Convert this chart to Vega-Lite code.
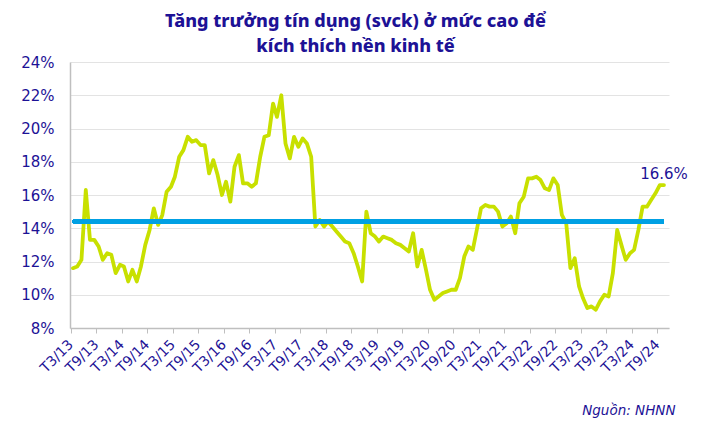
{
  "$schema": "https://vega.github.io/schema/vega-lite/v6.json",
  "description": "Tang truong tin dung (svck), T3/2013 - T10/2024",
  "autosize": "none",
  "width": 599,
  "height": 266,
  "padding": {"left": 70, "top": 62, "right": 44, "bottom": 95},
  "background": "white",
  "title": {
    "text": ["Tăng trưởng tín dụng (svck) ở mức cao để", "kích thích nền kinh tế"],
    "anchor": "middle",
    "frame": "group",
    "dx": -14,
    "dy": 1,
    "font": "Noto Sans",
    "fontSize": 18,
    "fontWeight": 800,
    "lineHeight": 25,
    "color": "#1d1296",
    "offset": 0
  },
  "config": {
    "view": {"stroke": null},
    "axis": {
      "labelFont": "DejaVu Sans",
      "labelColor": "#1d1296",
      "titleFont": "DejaVu Sans",
      "titleColor": "#1d1296",
      "domainColor": "#bfbfbf",
      "domainWidth": 1.5,
      "tickColor": "#bfbfbf",
      "gridColor": "#e3e3e3",
      "gridWidth": 1.2
    }
  },
  "data": {
    "values": [
      {"date": "2013-03-01", "value": 11.6},
      {"date": "2013-04-01", "value": 11.7},
      {"date": "2013-05-01", "value": 12.1},
      {"date": "2013-06-01", "value": 16.3},
      {"date": "2013-07-01", "value": 13.3},
      {"date": "2013-08-01", "value": 13.3},
      {"date": "2013-09-01", "value": 12.9},
      {"date": "2013-10-01", "value": 12.1},
      {"date": "2013-11-01", "value": 12.5},
      {"date": "2013-12-01", "value": 12.4},
      {"date": "2014-01-01", "value": 11.3},
      {"date": "2014-02-01", "value": 11.8},
      {"date": "2014-03-01", "value": 11.7},
      {"date": "2014-04-01", "value": 10.8},
      {"date": "2014-05-01", "value": 11.5},
      {"date": "2014-06-01", "value": 10.8},
      {"date": "2014-07-01", "value": 11.7},
      {"date": "2014-08-01", "value": 13.0},
      {"date": "2014-09-01", "value": 13.9},
      {"date": "2014-10-01", "value": 15.2},
      {"date": "2014-11-01", "value": 14.2},
      {"date": "2014-12-01", "value": 14.8},
      {"date": "2015-01-01", "value": 16.2},
      {"date": "2015-02-01", "value": 16.5},
      {"date": "2015-03-01", "value": 17.1},
      {"date": "2015-04-01", "value": 18.3},
      {"date": "2015-05-01", "value": 18.7},
      {"date": "2015-06-01", "value": 19.5},
      {"date": "2015-07-01", "value": 19.2},
      {"date": "2015-08-01", "value": 19.3},
      {"date": "2015-09-01", "value": 19.0},
      {"date": "2015-10-01", "value": 19.0},
      {"date": "2015-11-01", "value": 17.3},
      {"date": "2015-12-01", "value": 18.1},
      {"date": "2016-01-01", "value": 17.2},
      {"date": "2016-02-01", "value": 16.0},
      {"date": "2016-03-01", "value": 16.8},
      {"date": "2016-04-01", "value": 15.6},
      {"date": "2016-05-01", "value": 17.7},
      {"date": "2016-06-01", "value": 18.4},
      {"date": "2016-07-01", "value": 16.7},
      {"date": "2016-08-01", "value": 16.7},
      {"date": "2016-09-01", "value": 16.5},
      {"date": "2016-10-01", "value": 16.7},
      {"date": "2016-11-01", "value": 18.3},
      {"date": "2016-12-01", "value": 19.5},
      {"date": "2017-01-01", "value": 19.6},
      {"date": "2017-02-01", "value": 21.5},
      {"date": "2017-03-01", "value": 20.7},
      {"date": "2017-04-01", "value": 22.0},
      {"date": "2017-05-01", "value": 19.1},
      {"date": "2017-06-01", "value": 18.2},
      {"date": "2017-07-01", "value": 19.5},
      {"date": "2017-08-01", "value": 18.9},
      {"date": "2017-09-01", "value": 19.4},
      {"date": "2017-10-01", "value": 19.1},
      {"date": "2017-11-01", "value": 18.3},
      {"date": "2017-12-01", "value": 14.1},
      {"date": "2018-01-01", "value": 14.5},
      {"date": "2018-02-01", "value": 14.1},
      {"date": "2018-03-01", "value": 14.4},
      {"date": "2018-04-01", "value": 14.1},
      {"date": "2018-05-01", "value": 13.8},
      {"date": "2018-06-01", "value": 13.5},
      {"date": "2018-07-01", "value": 13.2},
      {"date": "2018-08-01", "value": 13.1},
      {"date": "2018-09-01", "value": 12.5},
      {"date": "2018-10-01", "value": 11.7},
      {"date": "2018-11-01", "value": 10.8},
      {"date": "2018-12-01", "value": 15.0},
      {"date": "2019-01-01", "value": 13.7},
      {"date": "2019-02-01", "value": 13.5},
      {"date": "2019-03-01", "value": 13.2},
      {"date": "2019-04-01", "value": 13.5},
      {"date": "2019-05-01", "value": 13.4},
      {"date": "2019-06-01", "value": 13.3},
      {"date": "2019-07-01", "value": 13.1},
      {"date": "2019-08-01", "value": 13.0},
      {"date": "2019-09-01", "value": 12.8},
      {"date": "2019-10-01", "value": 12.6},
      {"date": "2019-11-01", "value": 13.7},
      {"date": "2019-12-01", "value": 11.7},
      {"date": "2020-01-01", "value": 12.7},
      {"date": "2020-02-01", "value": 11.5},
      {"date": "2020-03-01", "value": 10.3},
      {"date": "2020-04-01", "value": 9.7},
      {"date": "2020-05-01", "value": 9.9},
      {"date": "2020-06-01", "value": 10.1},
      {"date": "2020-07-01", "value": 10.2},
      {"date": "2020-08-01", "value": 10.3},
      {"date": "2020-09-01", "value": 10.3},
      {"date": "2020-10-01", "value": 11.0},
      {"date": "2020-11-01", "value": 12.3},
      {"date": "2020-12-01", "value": 12.9},
      {"date": "2021-01-01", "value": 12.7},
      {"date": "2021-02-01", "value": 14.0},
      {"date": "2021-03-01", "value": 15.2},
      {"date": "2021-04-01", "value": 15.4},
      {"date": "2021-05-01", "value": 15.3},
      {"date": "2021-06-01", "value": 15.3},
      {"date": "2021-07-01", "value": 15.0},
      {"date": "2021-08-01", "value": 14.1},
      {"date": "2021-09-01", "value": 14.3},
      {"date": "2021-10-01", "value": 14.7},
      {"date": "2021-11-01", "value": 13.7},
      {"date": "2021-12-01", "value": 15.5},
      {"date": "2022-01-01", "value": 15.9},
      {"date": "2022-02-01", "value": 17.0},
      {"date": "2022-03-01", "value": 17.0},
      {"date": "2022-04-01", "value": 17.1},
      {"date": "2022-05-01", "value": 16.9},
      {"date": "2022-06-01", "value": 16.4},
      {"date": "2022-07-01", "value": 16.3},
      {"date": "2022-08-01", "value": 17.0},
      {"date": "2022-09-01", "value": 16.6},
      {"date": "2022-10-01", "value": 14.8},
      {"date": "2022-11-01", "value": 14.3},
      {"date": "2022-12-01", "value": 11.6},
      {"date": "2023-01-01", "value": 12.2},
      {"date": "2023-02-01", "value": 10.5},
      {"date": "2023-03-01", "value": 9.8},
      {"date": "2023-04-01", "value": 9.2},
      {"date": "2023-05-01", "value": 9.3},
      {"date": "2023-06-01", "value": 9.1},
      {"date": "2023-07-01", "value": 9.6},
      {"date": "2023-08-01", "value": 10.0},
      {"date": "2023-09-01", "value": 9.9},
      {"date": "2023-10-01", "value": 11.3},
      {"date": "2023-11-01", "value": 13.9},
      {"date": "2023-12-01", "value": 13.0},
      {"date": "2024-01-01", "value": 12.1},
      {"date": "2024-02-01", "value": 12.5},
      {"date": "2024-03-01", "value": 12.7},
      {"date": "2024-04-01", "value": 13.9},
      {"date": "2024-05-01", "value": 15.3},
      {"date": "2024-06-01", "value": 15.3},
      {"date": "2024-07-01", "value": 15.7},
      {"date": "2024-08-01", "value": 16.1},
      {"date": "2024-09-01", "value": 16.6},
      {"date": "2024-10-01", "value": 16.6}
    ],
    "format": {"parse": {"date": "date"}}
  },
  "encoding": {
    "x": {
      "field": "date",
      "type": "temporal",
      "scale": {
        "type": "utc",
        "domain": [
          {"year": 2013, "month": 2, "date": 8, "utc": true},
          {"year": 2024, "month": 11, "date": 6, "utc": true}
        ]
      },
      "axis": {
        "values": [
          {"year": 2013, "month": 2, "date": 14, "utc": true},
          {"year": 2013, "month": 8, "date": 14, "utc": true},
          {"year": 2014, "month": 2, "date": 14, "utc": true},
          {"year": 2014, "month": 8, "date": 14, "utc": true},
          {"year": 2015, "month": 2, "date": 14, "utc": true},
          {"year": 2015, "month": 8, "date": 14, "utc": true},
          {"year": 2016, "month": 2, "date": 14, "utc": true},
          {"year": 2016, "month": 8, "date": 14, "utc": true},
          {"year": 2017, "month": 2, "date": 14, "utc": true},
          {"year": 2017, "month": 8, "date": 14, "utc": true},
          {"year": 2018, "month": 2, "date": 14, "utc": true},
          {"year": 2018, "month": 8, "date": 14, "utc": true},
          {"year": 2019, "month": 2, "date": 14, "utc": true},
          {"year": 2019, "month": 8, "date": 14, "utc": true},
          {"year": 2020, "month": 2, "date": 14, "utc": true},
          {"year": 2020, "month": 8, "date": 14, "utc": true},
          {"year": 2021, "month": 2, "date": 14, "utc": true},
          {"year": 2021, "month": 8, "date": 14, "utc": true},
          {"year": 2022, "month": 2, "date": 14, "utc": true},
          {"year": 2022, "month": 8, "date": 14, "utc": true},
          {"year": 2023, "month": 2, "date": 14, "utc": true},
          {"year": 2023, "month": 8, "date": 14, "utc": true},
          {"year": 2024, "month": 2, "date": 14, "utc": true},
          {"year": 2024, "month": 8, "date": 14, "utc": true}
        ],
        "labelExpr": "'T' + utcFormat(datum.value + 20 * 86400000, '%-m/%y')",
        "labelAngle": -45,
        "labelAlign": "right",
        "labelBaseline": "middle",
        "labelFontSize": 14,
        "labelPadding": 9,
        "labelOverlap": false,
        "labelFlush": false,
        "labelBound": false,
        "tickSize": 5,
        "grid": false,
        "title": "Nguồn: NHNN",
        "titleFontStyle": "italic",
        "titleFontWeight": "normal",
        "titleFontSize": 13.5,
        "titleAnchor": "end",
        "titleAlign": "right",
        "titleBaseline": "middle",
        "titleX": 605,
        "titleY": 82
      }
    },
    "y": {
      "field": "value",
      "type": "quantitative",
      "scale": {"domain": [8, 24], "nice": false, "zero": false},
      "axis": {
        "values": [8, 10, 12, 14, 16, 18, 20, 22, 24],
        "labelExpr": "datum.value + '%'",
        "labelFontSize": 15,
        "labelPadding": 16,
        "ticks": false,
        "title": null
      }
    }
  },
  "layer": [
    {
      "mark": {"type": "line", "color": "#c8e000", "strokeWidth": 3.8, "strokeCap": "round", "strokeJoin": "round"}
    },
    {
      "mark": {"type": "rule", "color": "#00a0e3", "strokeWidth": 3.5},
      "encoding": {
        "x": {"datum": {"year": 2013, "month": 3, "date": 1, "utc": true}, "type": "temporal"},
        "x2": {"datum": {"year": 2024, "month": 10, "date": 1, "utc": true}},
        "y": {"datum": 14.4, "type": "quantitative"}
      }
    },
    {
      "transform": [{"filter": "utcyear(datum.date) == 2024 && utcmonth(datum.date) == 9"}],
      "mark": {"type": "text", "font": "DejaVu Sans", "fontSize": 15, "color": "#1d1296", "align": "center", "baseline": "middle", "dy": -11},
      "encoding": {
        "text": {"value": "16.6%"}
      }
    }
  ]
}
